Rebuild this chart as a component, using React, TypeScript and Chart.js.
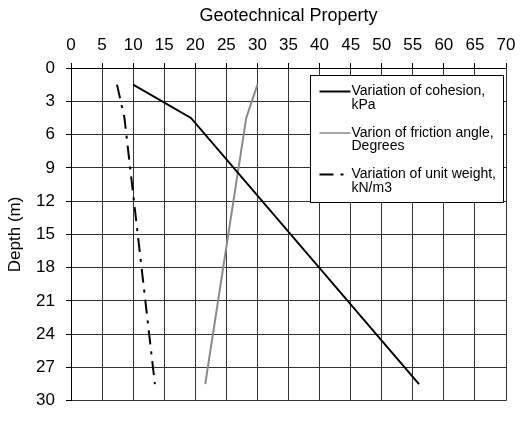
import React, { useEffect, useRef } from 'react';
import { Chart, registerables } from 'chart.js';

Chart.register(...registerables);

// Depth (m) of each reading
const depths = [1.5, 4.5, 28.5];
// Series values (geotechnical property)
const cohesion = [10, 19.3, 56];
const frictionAngle = [30, 28.2, 21.6];
const unitWeight = [7.4, 8.6, 13.5];

const seriesLabels: string[][] = [
  ['Variation of cohesion,', 'kPa'],
  ['Varion of friction angle,', 'Degrees'],
  ['Variation of unit weight,', 'kN/m3'],
];

const xTitle = 'Geotechnical Property';
const yTitle = 'Depth (m)';
const xMin = 0, xMax = 70, xStep = 5;
const yMin = 0, yMax = 30, yStep = 3;

const FONT = "'Liberation Sans', Arial, sans-serif";

const boxLegend = {
  id: 'boxLegend',
  afterDraw(chart: any) {
    const ctx = chart.ctx as CanvasRenderingContext2D;
    const area = chart.chartArea;
    const w = 193, h = 127;
    const bx = Math.round(area.right - 3 - w) + 0.5;
    const by = Math.round(area.top + 7) + 0.5;
    ctx.save();
    ctx.fillStyle = '#ffffff';
    ctx.fillRect(bx, by, w, h);
    ctx.strokeStyle = '#000000';
    ctx.lineWidth = 1;
    ctx.setLineDash([]);
    ctx.strokeRect(bx, by, w, h);
    chart.data.datasets.forEach((ds: any, i: number) => {
      const y0 = by + 16 + i * 41.5;
      ctx.save();
      ctx.strokeStyle = ds.borderColor;
      ctx.lineWidth = ds.legendLineWidth || ds.borderWidth;
      ctx.setLineDash(ds.borderDash || []);
      ctx.beginPath();
      ctx.moveTo(bx + 9, y0);
      ctx.lineTo(bx + 40, y0);
      ctx.stroke();
      ctx.restore();
      ctx.fillStyle = '#000';
      ctx.font = `14px ${FONT}`;
      ctx.textBaseline = 'middle';
      ctx.textAlign = 'left';
      const lines = seriesLabels[i];
      lines.forEach((t, k) => ctx.fillText(t, bx + 41, y0 + k * 13.5));
    });
    ctx.restore();
  },
};

export default function App() {
  const ref = useRef<HTMLCanvasElement | null>(null);
  useEffect(() => {
    document.body.style.margin = '0';
    if (!ref.current) return;
    const mk = (xs: number[]) => xs.map((x, i) => ({ x, y: depths[i] }));
    const chart = new Chart(ref.current, {
      type: 'line',
      data: {
        datasets: [
          {
            label: seriesLabels[0].join(' '),
            data: mk(cohesion),
            borderColor: '#000000',
            borderWidth: 2,
            pointRadius: 0,
            tension: 0,
          },
          {
            label: seriesLabels[1].join(' '),
            data: mk(frictionAngle),
            borderColor: '#8a8a8a',
            borderWidth: 2,
            legendLineWidth: 1.5,
            pointRadius: 0,
            tension: 0,
          } as any,
          {
            label: seriesLabels[2].join(' '),
            data: mk(unitWeight),
            borderColor: '#000000',
            borderWidth: 2,
            borderDash: [14, 7, 3, 7],
            pointRadius: 0,
            tension: 0,
          },
        ],
      },
      options: {
        responsive: false,
        animation: false,
        parsing: false as any,
        layout: { padding: { left: 0, top: 0, right: 21, bottom: 8 } },
        plugins: {
          legend: { display: false },
          tooltip: { enabled: false },
        },
        scales: {
          x: {
            type: 'linear',
            position: 'top',
            min: xMin,
            max: xMax,
            ticks: {
              stepSize: xStep,
              color: '#000',
              padding: 7,
              font: { family: FONT, size: 17 },
              maxRotation: 0,
            },
            grid: { color: '#333333', tickColor: '#000', tickLength: 5, lineWidth: 1 },
            border: { color: '#000', width: 1 },
            title: {
              display: true,
              text: xTitle,
              color: '#000',
              font: { family: FONT, size: 18 },
              padding: { top: 5, bottom: 0 },
            },
            afterFit: (s: any) => { s.height = 68; },
          },
          y: {
            type: 'linear',
            reverse: true,
            min: yMin,
            max: yMax,
            ticks: {
              stepSize: yStep,
              color: '#000',
              padding: 11,
              font: { family: FONT, size: 17 },
            },
            grid: { color: '#333333', tickColor: '#000', tickLength: 5, lineWidth: 1 },
            border: { color: '#000', width: 1 },
            title: {
              display: true,
              text: yTitle,
              color: '#000',
              font: { family: FONT, size: 17 },
              padding: { top: 5, bottom: 0 },
            },
            afterFit: (s: any) => { s.width = 71; },
          },
        },
      },
      plugins: [boxLegend],
    });
    return () => chart.destroy();
  }, []);
  return (
    <div style={{ width: 527, height: 422 }}>
      <canvas ref={ref} width={527} height={422} />
    </div>
  );
}
